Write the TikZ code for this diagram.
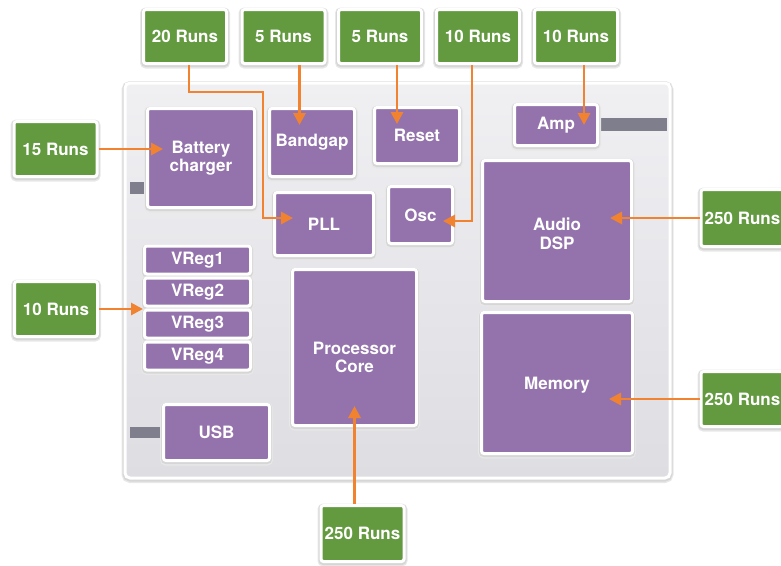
\documentclass[tikz,border=0pt]{standalone}
\usepackage{fontspec}
\setmainfont{TeX Gyre Heros}
\usepackage{xcolor}
\usepackage{tikz}
\usetikzlibrary{arrows.meta,calc,positioning}

\definecolor{runsgreen}{RGB}{99,154,64}
\definecolor{blockpurple}{RGB}{148,115,172}
\definecolor{feedorange}{RGB}{241,131,48}
\definecolor{padgray}{RGB}{126,126,140}
\definecolor{dielight}{RGB}{240,240,243}
\definecolor{diedark}{RGB}{221,221,226}

\begin{document}
\begin{tikzpicture}[x=1pt,y=-1pt,
  halo/.style={preaction={draw=black!9,line width=7pt,transform canvas={yshift=-1.5pt}},
    preaction={draw=black!16,line width=5pt,transform canvas={yshift=-1pt}}},
  base/.style={rectangle,draw=white,line width=3pt,rounded corners=2.5pt,text=white,
    font=\fontsize{17}{18.5}\selectfont\bfseries,align=center,inner sep=0pt,halo},
  runs/.style={base,fill=runsgreen,minimum width=83pt,minimum height=54pt},
  block/.style={base,fill=blockpurple},
  vreg/.style={block,minimum width=106pt,minimum height=28pt},
  feed/.style={draw=feedorange,line width=2.8pt,-{Triangle[length=12pt,width=12pt]}},
  pad/.style={fill=padgray}]
\useasboundingbox (0,0) rectangle (781,565);

% chip outline
\draw[white,line width=3pt,rounded corners=5pt,top color=dielight,bottom color=diedark,halo]
  (125,83) rectangle (670,478);
\fill[pad] (130,182) rectangle (147,194);
\fill[pad] (130,427) rectangle (163,438);
\fill[pad] (598,118) rectangle (667,131);

% test runs
\node[runs] (r20) at (185,36.5) {20 Runs};
\node[runs] (r5a) at (283.5,36.5) {5 Runs};
\node[runs] (r5b) at (380,36.5) {5 Runs};
\node[runs] (r10a) at (478,36.5) {10 Runs};
\node[runs] (r10b) at (576,36.5) {10 Runs};
\node[runs,minimum height=55pt] (r15) at (55.5,149) {15 Runs};
\node[runs,minimum height=55pt] (r10l) at (56,309) {10 Runs};
\node[runs,minimum height=57pt] (r250a) at (742.5,218) {250 Runs};
\node[runs,minimum height=55pt] (r250b) at (742.5,399) {250 Runs};
\node[runs,minimum height=56pt] (r250c) at (362.5,533.5) {250 Runs};

% blocks on the chip
\node[block,minimum width=107pt,minimum height=99pt] (batt) at (201,158) {Battery\\charger};
\node[block,minimum width=85pt,minimum height=68pt] (bandgap) at (312,142.5) {Bandgap};
\node[block,minimum width=85pt,minimum height=56pt] (reset) at (417,135.5) {Reset};
\node[block,minimum width=99pt,minimum height=63pt] (pll) at (324,224) {PLL};
\node[block,minimum width=64pt,minimum height=57pt] (osc) at (420.5,215) {Osc};
\node[block,minimum width=83pt,minimum height=41pt] (amp) at (556,125) {Amp};
\node[block,minimum width=149pt,minimum height=141pt] (dsp) at (557,231) {\rule{0pt}{18pt}Audio\\DSP};
\node[block,minimum width=151pt,minimum height=141pt] (mem) at (557,383) {\rule{0pt}{17pt}Memory};
\node[block,minimum width=124pt,minimum height=156pt] (core) at (354.5,347.5) {\rule{0pt}{32pt}Processor\\Core};
\node[vreg] (vreg1) at (197.5,260) {VReg1};
\node[vreg] (vreg2) at (197.5,292) {VReg2};
\node[vreg] (vreg3) at (197.5,324) {VReg3};
\node[vreg] (vreg4) at (197.5,356) {VReg4};
\node[block,minimum width=106pt,minimum height=56pt] (usb) at (216.5,432.5) {USB};

% feeds
\coordinate (jog) at (263,92);
\draw[feed,shorten >=-20pt] ([xshift=4pt]r20.south) |- (jog) |- ([yshift=6pt]pll.west);
\draw[feed,shorten >=-18pt] ([xshift=16pt]r5a.south) -- ([xshift=16pt]r5a.south |- bandgap.north);
\draw[feed,shorten >=-18pt] ([xshift=17pt]r5b.south) -- ([xshift=17pt]r5b.south |- reset.north);
\draw[feed,shorten >=-11pt] ([xshift=-6pt]r10a.south) |- ([yshift=-6pt]osc.east);
\draw[feed,shorten >=-22pt] ([xshift=8pt]r10b.south) -- ([xshift=8pt]r10b.south |- amp.north);
\draw[feed,shorten >=-17pt] (r15.east) -- (r15.east -| batt.west);
\draw[feed] (r10l.east) -- (r10l.east -| vreg2.west);
\draw[feed,shorten >=-23pt] (r250a.west) -- (r250a.west -| dsp.east);
\draw[feed,shorten >=-25pt] (r250b.west) -- (r250b.west -| mem.east);
\draw[feed,shorten >=-21pt] (core.south |- r250c.north) -- (core.south);
\end{tikzpicture}
\end{document}
